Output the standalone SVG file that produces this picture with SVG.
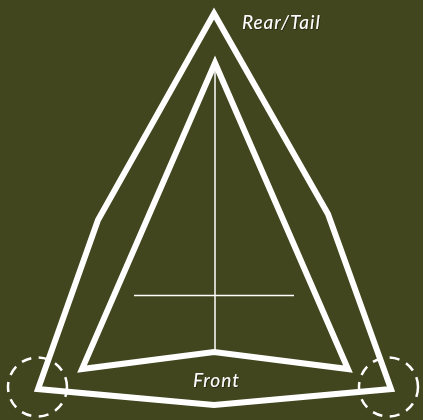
<svg xmlns="http://www.w3.org/2000/svg" width="423" height="420" viewBox="0 0 423 420">
<defs><filter id="sh" x="-10%" y="-20%" width="120%" height="150%"><feDropShadow dx="0.700" dy="0.700" stdDeviation="0.300" flood-color="#000" flood-opacity="0.600"/></filter></defs>
<style>
.hull{fill:none;stroke:#fff;stroke-width:6;stroke-miterlimit:10}
.axis{fill:none;stroke:#fff;stroke-width:1.500}
.zone{fill:none;stroke:#fff;stroke-width:2.500;stroke-dasharray:10 7.500}
.lab{font-family:"Lato","Liberation Sans",sans-serif;font-style:italic;font-size:19px;letter-spacing:1px;fill:#fff;stroke:none;filter:url(#sh)}
</style>
<rect width="423" height="420" fill="#41461e"/>
<g id="outer-hull"><polygon class="hull" points="214,13.500 328,214 391,389 214,405 38,389 98,220"/></g>
<g id="inner-hull"><polygon class="hull" points="215,63 348,369 214,352 82,369"/></g>
<g id="connectors">
<line class="axis" x1="215" y1="70" x2="215" y2="351"/>
<line class="axis" x1="134" y1="295.500" x2="294" y2="295.500"/>
</g>
<g id="left-zone"><circle class="zone" cx="37.500" cy="387" r="29.500"/></g>
<g id="right-zone"><circle class="zone" cx="388.500" cy="387" r="29.500"/></g>
<g id="label-rear"><text class="lab" x="242" y="29">Rear/Tail</text></g>
<g id="label-front"><text class="lab" x="193" y="387">Front</text></g>
</svg>
